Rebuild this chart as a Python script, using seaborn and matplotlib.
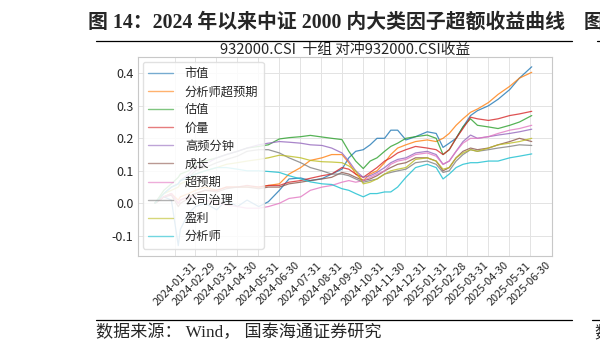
import numpy as np
import pandas as pd
import matplotlib
matplotlib.use("Agg")
import matplotlib.pyplot as plt
import matplotlib.dates as mdates
from matplotlib.lines import Line2D
import seaborn as sns

# ---------------- data ----------------
dates = ["2024-01-02", "2024-01-15", "2024-01-26", "2024-02-05", "2024-02-08",
         "2024-02-20", "2024-03-01", "2024-03-15", "2024-04-01", "2024-04-15",
         "2024-05-01", "2024-05-15", "2024-06-01", "2024-06-15", "2024-07-01",
         "2024-07-15", "2024-08-01", "2024-08-15", "2024-09-01", "2024-09-15",
         "2024-09-30", "2024-10-10", "2024-10-20", "2024-10-31", "2024-11-10",
         "2024-11-20", "2024-12-01", "2024-12-10", "2024-12-20", "2025-01-01",
         "2025-01-15", "2025-02-01", "2025-02-14", "2025-02-24", "2025-03-05",
         "2025-03-15", "2025-03-25", "2025-04-05", "2025-04-15", "2025-05-01",
         "2025-05-15", "2025-06-01", "2025-06-15", "2025-07-03"]

factor_names = ["市值", "分析师超预期", "估值", "价量", "高频分钟",
                "成长", "超预期", "公司治理", "盈利", "分析师"]

size_f = [0.00, 0.02, 0.01, -0.13, -0.08, -0.03, -0.01, 0.00, -0.02, 0.01,
          -0.01, 0.01, -0.01, 0.005, 0.04, 0.075, 0.078, 0.07, 0.076, 0.09,
          0.105, 0.14, 0.16, 0.165, 0.18, 0.20, 0.20, 0.225, 0.225, 0.195,
          0.205, 0.22, 0.215, 0.172, 0.185, 0.20, 0.235, 0.27, 0.285, 0.30,
          0.32, 0.35, 0.385, 0.42]
analyst_surprise = [0.00, 0.02, 0.03, 0.01, 0.02, 0.03, 0.04, 0.05, 0.04, 0.05,
                    0.05, 0.05, 0.05, 0.055, 0.06, 0.09, 0.11, 0.132, 0.14, 0.15,
                    0.15, 0.125, 0.09, 0.07, 0.09, 0.10, 0.125, 0.15, 0.17, 0.18,
                    0.19, 0.195, 0.19, 0.20, 0.215, 0.24, 0.26, 0.28, 0.29, 0.31,
                    0.335, 0.36, 0.385, 0.403]
value_f = [0.00, 0.04, 0.06, 0.08, 0.09, 0.10, 0.12, 0.13, 0.14, 0.15,
           0.16, 0.17, 0.175, 0.18, 0.198, 0.202, 0.205, 0.209, 0.204, 0.20,
           0.196, 0.16, 0.13, 0.107, 0.13, 0.14, 0.16, 0.175, 0.185, 0.20,
           0.205, 0.21, 0.20, 0.15, 0.165, 0.20, 0.235, 0.26, 0.24, 0.235,
           0.23, 0.24, 0.25, 0.27]
price_vol = [0.00, 0.02, 0.03, 0.00, 0.01, 0.02, 0.03, 0.04, 0.04, 0.05,
             0.05, 0.055, 0.05, 0.055, 0.055, 0.065, 0.07, 0.077, 0.085, 0.09,
             0.11, 0.105, 0.09, 0.08, 0.095, 0.11, 0.13, 0.14, 0.155, 0.165,
             0.175, 0.17, 0.165, 0.15, 0.165, 0.20, 0.23, 0.265, 0.26, 0.255,
             0.26, 0.27, 0.275, 0.283]
hf_minute = [0.00, 0.03, 0.05, 0.06, 0.07, 0.09, 0.11, 0.12, 0.14, 0.15,
             0.16, 0.17, 0.18, 0.185, 0.19, 0.188, 0.185, 0.18, 0.178, 0.17,
             0.155, 0.13, 0.10, 0.08, 0.085, 0.095, 0.11, 0.125, 0.135, 0.14,
             0.155, 0.16, 0.15, 0.12, 0.13, 0.16, 0.19, 0.21, 0.20, 0.205,
             0.21, 0.215, 0.22, 0.228]
growth = [0.00, 0.02, 0.025, -0.01, 0.00, 0.015, 0.03, 0.04, 0.035, 0.045,
          0.05, 0.05, 0.045, 0.05, 0.05, 0.06, 0.065, 0.07, 0.075, 0.08,
          0.095, 0.09, 0.08, 0.07, 0.075, 0.085, 0.10, 0.11, 0.12, 0.125,
          0.14, 0.14, 0.13, 0.10, 0.11, 0.14, 0.16, 0.17, 0.165, 0.17,
          0.18, 0.19, 0.20, 0.19]
surprise = [0.00, 0.02, 0.03, 0.00, 0.01, 0.02, 0.02, 0.01, 0.00, -0.005,
            -0.01, -0.015, -0.015, -0.01, 0.00, 0.015, 0.02, 0.04, 0.05, 0.055,
            0.065, 0.07, 0.065, 0.07, 0.08, 0.09, 0.10, 0.12, 0.13, 0.135,
            0.15, 0.155, 0.145, 0.12, 0.13, 0.16, 0.185, 0.20, 0.20, 0.205,
            0.215, 0.225, 0.23, 0.24]
governance = [0.00, 0.03, 0.05, 0.06, 0.07, 0.08, 0.10, 0.11, 0.125, 0.135,
              0.145, 0.16, 0.165, 0.165, 0.155, 0.14, 0.125, 0.11, 0.10, 0.09,
              0.09, 0.085, 0.075, 0.065, 0.07, 0.075, 0.09, 0.095, 0.10, 0.105,
              0.125, 0.13, 0.12, 0.095, 0.10, 0.13, 0.15, 0.165, 0.16, 0.165,
              0.17, 0.175, 0.18, 0.178]
profit = [0.00, 0.03, 0.04, 0.05, 0.06, 0.07, 0.09, 0.10, 0.11, 0.12,
          0.125, 0.13, 0.135, 0.14, 0.148, 0.145, 0.14, 0.132, 0.128, 0.127,
          0.125, 0.115, 0.10, 0.06, 0.065, 0.075, 0.09, 0.10, 0.105, 0.11,
          0.135, 0.14, 0.13, 0.105, 0.11, 0.14, 0.155, 0.165, 0.16, 0.17,
          0.18, 0.185, 0.19, 0.20]
analyst = [0.00, 0.03, 0.05, 0.06, 0.07, 0.08, 0.09, 0.10, 0.11, 0.11,
           0.105, 0.10, 0.10, 0.098, 0.095, 0.085, 0.075, 0.066, 0.06, 0.058,
           0.045, 0.04, 0.03, 0.02, 0.03, 0.03, 0.035, 0.035, 0.05, 0.08,
           0.11, 0.12, 0.11, 0.075, 0.09, 0.11, 0.12, 0.125, 0.125, 0.13,
           0.13, 0.14, 0.145, 0.152]

series = [size_f, analyst_surprise, value_f, price_vol, hf_minute,
          growth, surprise, governance, profit, analyst]

tick_dates = ["2024-01-31", "2024-02-29", "2024-03-31", "2024-04-30", "2024-05-31",
              "2024-06-30", "2024-07-31", "2024-08-31", "2024-09-30", "2024-10-31",
              "2024-11-30", "2024-12-31", "2025-01-31", "2025-02-28", "2025-03-31",
              "2025-04-30", "2025-05-31", "2025-06-30"]
y_ticks = [-0.1, 0.0, 0.1, 0.2, 0.3, 0.4]

fig_title = "图 14：2024 年以来中证 2000 内大类因子超额收益曲线"
chart_title = "932000.CSI  十组 对冲932000.CSI收益"
source_text = "数据来源： Wind， 国泰海通证券研究"

# ---------------- build long table ----------------
frames = []
for name, vals in zip(factor_names, series):
    frames.append(pd.DataFrame({"date": pd.to_datetime(dates), "value": vals, "factor": name}))
df = pd.concat(frames, ignore_index=True)

# ---------------- style ----------------
sns.set_style("whitegrid")
plt.rcParams["font.family"] = ["Noto Sans CJK SC", "DejaVu Sans"]
plt.rcParams["axes.unicode_minus"] = False

fig = plt.figure(figsize=(6.0, 3.51), dpi=100)
ax = fig.add_axes([137.7 / 600, 1 - 256 / 351, (551.7 - 137.7) / 600, (256 - 56.7) / 351])

sns.lineplot(data=df, x="date", y="value", hue="factor", hue_order=factor_names,
             palette="tab10", linewidth=0.9, alpha=0.8, ax=ax)

ax.set_xlim(pd.Timestamp("2023-12-08"), pd.Timestamp("2025-08-01"))
ax.set_ylim(-0.162, 0.451)
ax.set_xlabel("")
ax.set_ylabel("")

td = pd.to_datetime(tick_dates)
ax.set_xticks(mdates.date2num(td))
ax.set_xticklabels(tick_dates, rotation=45, fontsize=7.9)
ax.set_yticks(y_ticks)
ax.set_yticklabels([f"{v:.1f}" for v in y_ticks], fontsize=9)
ax.tick_params(axis="both", length=0, pad=3)

for sp in ax.spines.values():
    sp.set_color("#c8c8c8")
    sp.set_linewidth(0.8)
ax.grid(True, color="#e3e3e3", linewidth=0.7)

ax.set_title(chart_title, fontsize=10.6, pad=2)

handles, labels = ax.get_legend_handles_labels()
for h in handles:
    h.set_alpha(0.6)
    h.set_linewidth(1.0)
leg = ax.legend(handles, labels, loc="upper left", fontsize=8.8, handlelength=2.0,
                handletextpad=1.0, labelspacing=0.42, borderpad=0.45,
                borderaxespad=0.4, framealpha=0.86, edgecolor="#dddddd")

# ---------------- report frame: titles, rules, source ----------------
fig.text(88 / 600, 1 - 23 / 351, fig_title, fontsize=14.3, fontweight="bold",
         va="center", ha="left", family=["Liberation Serif", "Noto Sans CJK SC"])
fig.text(584 / 600, 1 - 23 / 351, "图", fontsize=14, fontweight="bold",
         va="center", ha="left", family=["Noto Sans CJK SC"])
fig.add_artist(Line2D([96 / 600, 572 / 600], [1 - 41 / 351, 1 - 41 / 351],
                      color="black", linewidth=0.9, transform=fig.transFigure))
fig.add_artist(Line2D([597 / 600, 1.0], [1 - 41 / 351, 1 - 41 / 351],
                      color="black", linewidth=0.9, transform=fig.transFigure))
fig.add_artist(Line2D([96 / 600, 572 / 600], [1 - 320 / 351, 1 - 320 / 351],
                      color="black", linewidth=0.9, transform=fig.transFigure))
fig.add_artist(Line2D([592 / 600, 1.0], [1 - 320 / 351, 1 - 320 / 351],
                      color="black", linewidth=0.9, transform=fig.transFigure))
fig.text(96 / 600, 1 - 333 / 351, source_text, fontsize=12.3, va="center", ha="left",
         family=["Liberation Serif", "Noto Sans CJK SC"])
fig.text(594 / 600, 1 - 333 / 351, "数", fontsize=12, va="center", ha="left",
         family=["Noto Sans CJK SC"])

fig.savefig("out.png", dpi=100)
